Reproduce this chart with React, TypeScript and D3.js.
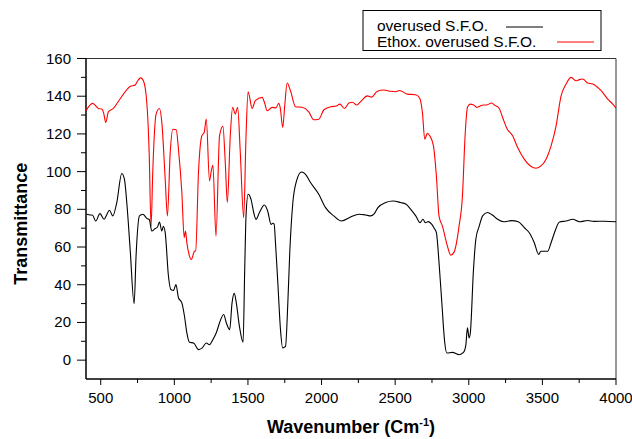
import React from "react";
import * as d3 from "d3";

const blackWn = [405,430,445,466,495,523,540,559,582,609,643,661,677,700,727,740,763,786,813,830,847,870,885,899,915,925,938,960,976,995,1011,1028,1051,1069,1085,1103,1131,1164,1190,1217,1239,1262,1285,1307,1335,1353,1376,1392,1407,1421,1442,1467,1478,1487,1501,1521,1540,1555,1578,1612,1634,1657,1668,1678,1687,1703,1721,1736,1755,1771,1784,1805,1830,1864,1891,1925,1981,2027,2083,2136,2197,2254,2300,2333,2360,2383,2435,2485,2537,2572,2606,2640,2669,2689,2705,2725,2749,2765,2780,2798,2817,2837,2851,2889,2935,2964,2980,2991,3002,3010,3032,3048,3071,3094,3127,3160,3196,3236,3290,3336,3377,3411,3445,3475,3490,3536,3559,3582,3616,3661,3707,3752,3808,3850,3922,4000];
const blackT = [77.4,77,76.9,73.8,77.7,74.7,77,79.5,76.5,83.6,99,96,83.6,58.7,29.9,55.2,76.5,77.4,75.2,74.5,68.5,69.8,70.5,73.3,68.5,71,67.6,44.6,37.5,37,40.1,33.1,30.4,23.3,14.5,9.5,9.1,5.6,6.5,9.1,8.2,10.9,14.5,19.8,24.2,19.8,16.2,30.4,35.4,30.4,18,9.5,48.1,76.5,88,85.3,78,74.7,78.3,82.3,79.1,72,72.6,72.2,62.3,41,16.2,6.5,7.3,30.4,57,83.6,95.1,99.8,98.6,94.2,88,80.9,76.5,73.8,75.9,77.4,77,76.5,77.9,80.9,83.6,84.4,83.6,82.8,80,76.5,72.9,74.7,72.9,73.5,72,70,67.6,51.7,30.4,9.1,3.8,4.1,2.9,4.1,8,17.1,11.8,14,48.1,64.1,71.1,76.5,78.3,77,74.7,73.4,74,73.4,70.3,67.6,62.3,56.1,57.8,57.8,62.3,67.6,73.3,73.8,74.7,73.4,74.1,73.6,73.7,73.4];

const redWn = [400,445,484,507,520,534,552,586,631,700,734,745,772,790,813,829,842,854,876,899,915,938,953,972,990,1013,1028,1051,1067,1076,1085,1100,1115,1137,1145,1164,1187,1203,1217,1239,1250,1262,1283,1307,1330,1346,1360,1380,1396,1414,1430,1448,1471,1487,1501,1510,1528,1550,1596,1615,1630,1664,1690,1709,1720,1736,1750,1766,1789,1823,1868,1913,1947,1981,2016,2061,2100,2124,2156,2186,2210,2238,2270,2311,2340,2379,2424,2470,2504,2530,2583,2640,2667,2685,2701,2719,2735,2760,2780,2798,2821,2855,2878,2900,2934,2957,2975,2991,3009,3030,3055,3090,3127,3155,3180,3207,3230,3259,3298,3332,3377,3423,3457,3491,3525,3559,3593,3627,3661,3695,3729,3750,3774,3808,3842,3870,3899,3944,3978,4000];
const redT = [132.3,136.2,133.5,133.2,131,126.1,131.7,133.5,138.5,145.2,145.9,147.4,149.7,148.2,136.7,110.2,71.1,101.3,130.5,133.5,126.1,96,76.5,110.2,122.5,122.2,111.9,88.9,65,68.5,62.3,56,53.4,57.8,58,99.5,119,120.8,127.9,95.1,100,103.4,65.8,119,124,104.8,83.6,119,134.1,130.5,134.1,110.2,75.6,119,142.4,140,133.5,137.6,139.4,136,132.3,134.1,133.8,136.2,133.5,123.4,135,147,142.9,134.4,134.1,131.7,127.5,127.8,132.8,134.4,134.8,135.8,133.5,136.4,136.8,135.3,137.5,140.2,139.5,142.6,143.3,142.6,142.4,143,141.1,140.8,138.9,131.4,117.2,120.3,119,113.7,97.7,76.4,71.1,60.5,55.7,57.3,71.1,87.1,119,134.1,135.8,135.5,134.1,135.2,135.5,136.4,135,133.5,128.7,122.9,119,112.8,106.6,102.7,101.8,103,106.6,113.7,124.3,140.2,146.5,150,148.2,148.8,149.1,147,146.5,145,142.9,138.5,135.8,133.7];

const xTicks = [500, 1000, 1500, 2000, 2500, 3000, 3500, 4000];
const xMinor = [750, 1250, 1750, 2250, 2750, 3250, 3750];
const yTicks = [0, 20, 40, 60, 80, 100, 120, 140, 160];
const yMinor = [10, 30, 50, 70, 90, 110, 130, 150];
const seriesNames = ["overused S.F.O.", "Ethox. overused S.F.O."];
const seriesColors = ["#000000", "#ff0000"];

const W = 632, H = 439;
const L = 86, R = 616, T = 58.5, B = 379;
const FONT = "'Liberation Sans', Arial, Helvetica, sans-serif";

export default function App() {
  const x = d3.scaleLinear().domain([400, 4000]).range([L, R]);
  const y = d3.scaleLinear().domain([-10, 160]).range([B, T]);
  const line = d3.line<[number, number]>().x(d => x(d[0])).y(d => y(d[1])).curve(d3.curveMonotoneX);
  const blackPts = blackWn.map((w, i) => [w, blackT[i]] as [number, number]);
  const redPts = redWn.map((w, i) => [w, redT[i]] as [number, number]);
  return (
    <svg width={W} height={H} style={{ position: "absolute", left: 0, top: 0, background: "#fff" }} fontFamily={FONT}>
      <rect x={0} y={0} width={W} height={H} fill="#fff" />
      {/* frame */}
      <line x1={L} x2={R} y1={T} y2={T} stroke="#333" strokeWidth={1} />
      <line x1={R} x2={R} y1={T} y2={B} stroke="#555" strokeWidth={1.2} />
      <line x1={L} x2={L} y1={T} y2={B} stroke="#000" strokeWidth={1.5} />
      <line x1={L} x2={R} y1={B} y2={B} stroke="#000" strokeWidth={1.5} />
      {/* curves */}
      <path d={line(redPts) || ""} fill="none" stroke={seriesColors[1]} strokeWidth={1.1} />
      <path d={line(blackPts) || ""} fill="none" stroke={seriesColors[0]} strokeWidth={1.1} />
      {/* y ticks */}
      {yTicks.map(t => (
        <g key={"y" + t}>
          <line x1={L - 9} x2={L} y1={y(t)} y2={y(t)} stroke="#000" strokeWidth={1} />
          <text x={L - 15} y={y(t) + 5} textAnchor="end" fontSize={15}>{t}</text>
        </g>
      ))}
      {yMinor.map(t => (
        <line key={"ym" + t} x1={L - 5} x2={L} y1={y(t)} y2={y(t)} stroke="#000" strokeWidth={1} />
      ))}
      {/* x ticks */}
      {xTicks.map(t => (
        <g key={"x" + t}>
          <line x1={x(t)} x2={x(t)} y1={B} y2={B + 6} stroke="#000" strokeWidth={1} />
          <text x={x(t)} y={B + 24} textAnchor="middle" fontSize={15}>{t}</text>
        </g>
      ))}
      {xMinor.map(t => (
        <line key={"xm" + t} x1={x(t)} x2={x(t)} y1={B} y2={B + 4} stroke="#000" strokeWidth={1} />
      ))}
      {/* axis titles */}
      <text transform={`translate(27,${(T + B) / 2 + 5}) rotate(-90)`} textAnchor="middle" fontSize={18} fontWeight="bold">Transmittance</text>
      <text x={351} y={433} textAnchor="middle" fontSize={18} fontWeight="bold">
        Wavenumber (Cm<tspan dy={-7} fontSize={11}>-1</tspan><tspan dy={7}>)</tspan>
      </text>
      {/* legend */}
      <rect x={363} y={10.5} width={238} height={40} fill="#fff" stroke="#000" strokeWidth={1} />
      <text x={377} y={31} fontSize={15.5}>{seriesNames[0]}</text>
      <line x1={506} x2={543} y1={27} y2={27} stroke={seriesColors[0]} strokeWidth={1} />
      <text x={377} y={46.5} fontSize={15.5}>{seriesNames[1]}</text>
      <line x1={557} x2={594} y1={42} y2={42} stroke={seriesColors[1]} strokeWidth={1} />
    </svg>
  );
}
